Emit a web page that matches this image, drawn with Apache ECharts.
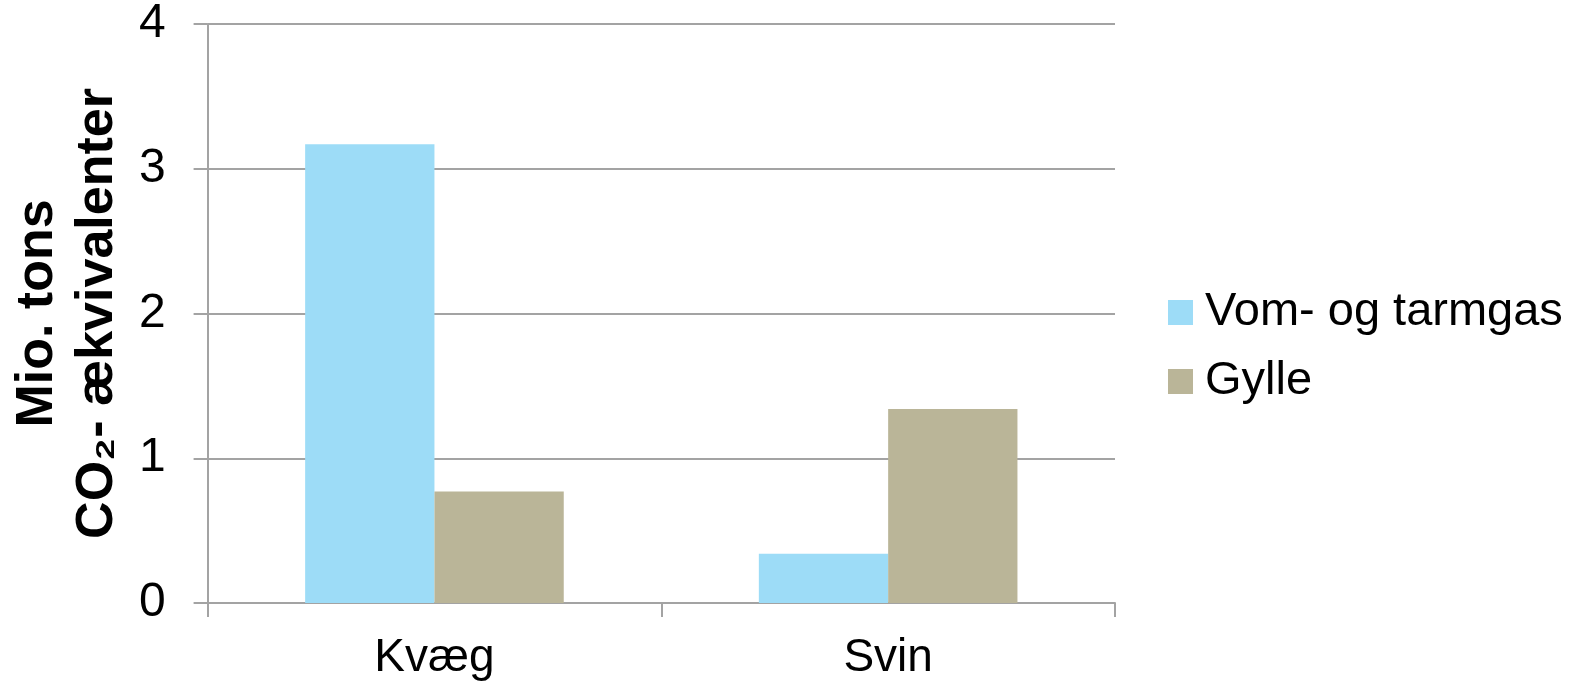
<!DOCTYPE html>
<html>
<head>
<meta charset="utf-8">
<script src="https://cdn.jsdelivr.net/npm/echarts@6/dist/echarts.min.js"></script>
<style>
  html, body { margin: 0; padding: 0; background: #fff; }
  #chart { width: 1577px; height: 687px; }
</style>
</head>
<body>
<div id="chart"></div>
<script>
// Emissions by livestock type (mio. tons CO2 equivalents)
const categories = ['Kvæg', 'Svin'];
const seriesNames = ['Vom- og tarmgas', 'Gylle'];
const vomOgTarmgas = [3.17, 0.34];
const gylle = [0.77, 1.34];
const yTicks = [0, 1, 2, 3, 4];

const FONT = '"Liberation Sans", Arial, sans-serif';
const GRID_COLOR = '#a3a3a3';

const chart = echarts.init(document.getElementById('chart'), null, { renderer: 'canvas' });

chart.setOption({
  animation: false,
  backgroundColor: '#ffffff',
  textStyle: { fontFamily: FONT },
  grid: { left: 203, right: 462, top: 23, bottom: 84, containLabel: false },
  legend: {
    orient: 'vertical',
    left: 1163,
    top: 284,
    itemWidth: 25,
    itemHeight: 25,
    itemGap: 22,
    icon: 'rect',
    data: seriesNames,
    textStyle: {
      fontFamily: FONT,
      fontSize: 47,
      lineHeight: 47,
      color: '#000',
      padding: [0, 0, 0, 7]
    }
  },
  xAxis: {
    type: 'category',
    data: categories,
    axisLine: { show: true, lineStyle: { color: GRID_COLOR, width: 2 } },
    axisTick: { show: true, alignWithLabel: false, length: 14, lineStyle: { color: GRID_COLOR, width: 2 } },
    axisLabel: { fontFamily: FONT, fontSize: 46, color: '#000', margin: 32 },
    splitLine: { show: false }
  },
  yAxis: {
    type: 'value',
    min: yTicks[0],
    max: yTicks[yTicks.length - 1],
    interval: 1,
    name: 'Mio. tons\nCO₂- ækvivalenter',
    nameLocation: 'middle',
    nameRotate: 90,
    nameGap: 72,
    nameTextStyle: {
      fontFamily: FONT,
      fontSize: 52,
      fontWeight: 'bold',
      lineHeight: 60,
      color: '#000'
    },
    axisLine: { show: true, lineStyle: { color: GRID_COLOR, width: 2 } },
    axisTick: { show: true, length: 14, lineStyle: { color: GRID_COLOR, width: 2 } },
    axisLabel: { fontFamily: FONT, fontSize: 48, color: '#000', margin: 42 },
    splitLine: { show: true, lineStyle: { color: GRID_COLOR, width: 2 } }
  },
  series: [
    {
      name: seriesNames[0],
      type: 'bar',
      data: vomOgTarmgas,
      barGap: '0%',
      barCategoryGap: '43%',
      itemStyle: { color: '#9ddcf7' }
    },
    {
      name: seriesNames[1],
      type: 'bar',
      data: gylle,
      barGap: '0%',
      barCategoryGap: '43%',
      itemStyle: { color: '#bab598' }
    }
  ]
});
</script>
</body>
</html>
